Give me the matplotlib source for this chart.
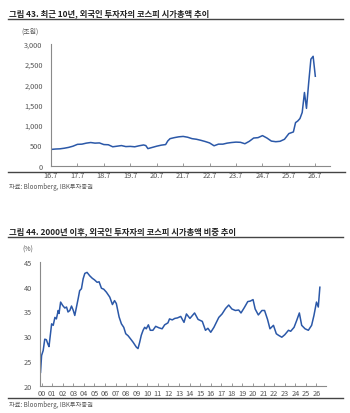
import pandas as pd
import matplotlib.pyplot as plt
from matplotlib.lines import Line2D

plt.rcParams['font.family'] = ['Noto Sans CJK KR', 'DejaVu Sans']

# 그림 43: 외국인 코스피 시가총액 (조원)
cap_months = ['2016-07', '2016-09', '2016-11', '2017-01', '2017-03', '2017-05', '2017-07', '2017-09', '2017-11', '2018-01',
              '2018-03', '2018-05', '2018-07', '2018-09', '2018-11', '2019-01', '2019-03', '2019-05', '2019-07', '2019-09',
              '2019-11', '2020-01', '2020-02', '2020-03', '2020-05', '2020-07', '2020-09', '2020-11', '2020-12', '2021-01',
              '2021-03', '2021-05', '2021-07', '2021-09', '2021-11', '2022-01', '2022-03', '2022-05', '2022-07', '2022-09',
              '2022-11', '2023-01', '2023-03', '2023-05', '2023-07', '2023-09', '2023-11', '2024-01', '2024-03', '2024-05',
              '2024-07', '2024-09', '2024-11', '2025-01', '2025-03', '2025-05', '2025-07', '2025-08', '2025-09', '2025-10',
              '2025-11', '2025-12', '2026-01', '2026-02', '2026-03', '2026-04', '2026-05', '2026-06', '2026-07']
cap_values = [400, 410, 415, 430, 450, 480, 525, 530, 555, 570,
              555, 560, 520, 515, 465, 480, 495, 470, 475, 465,
              490, 510, 495, 420, 450, 480, 505, 520, 610, 665,
              690, 710, 720, 700, 665, 650, 625, 595, 560, 490,
              530, 530, 555, 570, 580, 575, 540, 600, 680, 690,
              740, 680, 605, 590, 600, 650, 790, 810, 830, 1060,
              1100, 1160, 1310, 1800, 1410, 2050, 2620, 2690, 2200]
cap_tick_months = ['2016-07', '2017-07', '2018-07', '2019-07', '2020-07', '2021-07',
                   '2022-07', '2023-07', '2024-07', '2025-07', '2026-07']
cap_ticks = ['16.7', '17.7', '18.7', '19.7', '20.7', '21.7', '22.7', '23.7', '24.7', '25.7', '26.7']

# 그림 44: 외국인 시가총액 비중 (%)
share_years = [-0.1, 0.0, 0.15, 0.3, 0.45, 0.6, 0.7, 0.95, 1.1, 1.26,
               1.4, 1.57, 1.65, 1.8, 2.0, 2.2, 2.36, 2.5, 2.67, 2.83,
               3.0, 3.14, 3.3, 3.46, 3.6, 3.77, 3.93, 4.09, 4.3, 4.56,
               4.8, 5.0, 5.25, 5.44, 5.66, 5.88, 6.13, 6.45, 6.7, 6.9,
               7.07, 7.33, 7.55, 7.77, 7.96, 8.18, 8.4, 8.65, 8.96, 9.12,
               9.28, 9.43, 9.6, 9.75, 9.9, 10.1, 10.28, 10.53, 10.79, 11.1,
               11.4, 11.64, 11.95, 12.1, 12.36, 12.6, 12.85, 13.16, 13.47, 13.7,
               14.03, 14.47, 14.8, 15.2, 15.5, 15.73, 16.0, 16.3, 16.76, 17.07,
               17.4, 17.7, 18.0, 18.33, 18.64, 18.86, 19.18, 19.5, 19.74, 20.0,
               20.2, 20.5, 20.84, 21.09, 21.37, 21.6, 21.93, 22.2, 22.4, 22.72,
               23.0, 23.35, 23.56, 23.88, 24.13, 24.38, 24.6, 24.92, 25.23, 25.54,
               25.76, 26.0, 26.17, 26.32]
share_values = [22.7, 26.1, 27.1, 29.4, 29.3, 28.4, 27.9, 32.5, 32.2, 33.8,
                33.5, 35.2, 34.6, 36.9, 36.2, 35.7, 35.9, 34.9, 35.2, 36.1,
                35.2, 34.2, 35.9, 37.6, 39.2, 39.6, 41.6, 42.7, 42.9, 42.2,
                41.7, 41.4, 40.9, 41.0, 39.7, 39.5, 38.9, 37.9, 36.4, 37.2,
                36.6, 33.9, 32.5, 31.8, 30.5, 30.1, 29.5, 28.8, 27.8, 27.5,
                28.8, 30.2, 31.2, 31.8, 31.5, 32.3, 31.2, 31.2, 32.0, 31.7,
                31.5, 32.3, 32.7, 33.5, 33.3, 33.6, 33.7, 34.0, 32.8, 34.5,
                33.6, 34.7, 33.4, 33.0, 31.2, 31.6, 30.8, 31.8, 33.8, 34.5,
                35.6, 36.3, 35.5, 35.2, 35.3, 34.7, 35.8, 37.0, 37.1, 37.4,
                35.5, 34.3, 35.2, 35.2, 33.4, 31.5, 32.2, 30.5, 30.2, 29.8,
                30.3, 31.2, 31.0, 31.8, 33.2, 34.7, 32.2, 31.5, 31.2, 32.2,
                34.2, 36.9, 35.9, 39.9]
share_ticks = ['%02d' % y for y in range(27)]

W, H = 350, 414
LINE = '#2b58a8'
GRID = '#8a8a8a'
TXT = '#555555'

fig = plt.figure(figsize=(W / 100, H / 100), dpi=100)


def fx(px):
    return px / W


def fy(py):
    return 1 - py / H


def rule(y, x0=8, x1=343, lw=1.0):
    fig.add_artist(Line2D([fx(x0), fx(x1)], [fy(y), fy(y)], color='#444444', lw=lw,
                          transform=fig.transFigure))


def style(ax):
    for s in ['top', 'right']:
        ax.spines[s].set_visible(False)
    for s in ['left', 'bottom']:
        ax.spines[s].set_color(GRID)
        ax.spines[s].set_linewidth(0.8)
    ax.tick_params(axis='both', colors=GRID, labelcolor=TXT, labelsize=5.3, width=0.6)
    ax.tick_params(axis='x', direction='in', length=2.5, pad=3)
    ax.tick_params(axis='y', length=0, pad=6)


# ---- 그림 43 ----
fig.text(fx(9), fy(14), '그림 43. 최근 10년, 외국인 투자자의 코스피 시가총액 추이',
         fontsize=6.0, fontweight='bold', color='#222222', va='center', ha='left')
rule(20)
ax1 = fig.add_axes([fx(51), fy(166.7), fx(330 - 51), 122 / H])
ax1.plot(pd.to_datetime(cap_months), cap_values, color=LINE, linewidth=1.1)
ax1.set_ylim(0, 3000)
ax1.set_yticks(range(0, 3001, 500))
ax1.set_yticklabels(['{:,}'.format(v) for v in range(0, 3001, 500)])
ax1.set_xticks(pd.to_datetime(cap_tick_months))
ax1.set_xticklabels(cap_ticks)
ax1.set_xlim(pd.Timestamp('2016-07-01'), pd.Timestamp('2027-01-20'))
style(ax1)
ax1.tick_params(axis='x', pad=4)
fig.text(fx(39), fy(32), '(조원)', fontsize=5, color=TXT, ha='right', va='center')
rule(173, 8, 345)
fig.text(fx(9), fy(187), '자료: Bloomberg, IBK투자증권', fontsize=4.5, color=TXT, ha='left', va='center')

# ---- 그림 44 ----
fig.text(fx(9), fy(232), '그림 44. 2000년 이후, 외국인 투자자의 코스피 시가총액 비중 추이',
         fontsize=6.0, fontweight='bold', color='#222222', va='center', ha='left')
rule(238)
ax2 = fig.add_axes([fx(40), fy(386.7), fx(326 - 40), 123.7 / H])
ax2.plot(share_years, share_values, color=LINE, linewidth=1.1)
ax2.set_ylim(20, 45)
ax2.set_yticks(range(20, 46, 5))
ax2.set_xticks(range(27))
ax2.set_xticklabels(share_ticks)
ax2.set_xlim(-0.15, 26.9)
style(ax2)
ax2.tick_params(axis='x', pad=2.5)
fig.text(fx(33), fy(250), '(%)', fontsize=5, color=TXT, ha='right', va='center')
rule(399, 8, 343)
fig.text(fx(9), fy(405), '자료: Bloomberg, IBK투자증권', fontsize=4.5, color=TXT, ha='left', va='center')

fig.savefig('out.png', dpi=100)
